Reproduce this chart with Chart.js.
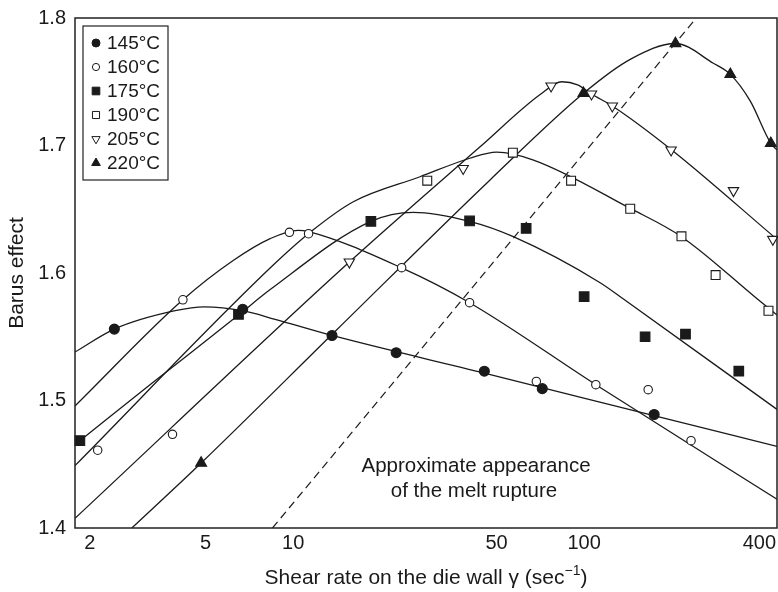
<!DOCTYPE html>
<html>
<head>
<meta charset="utf-8">
<script src="https://cdn.jsdelivr.net/npm/chart.js@4/dist/chart.umd.min.js"></script>
<style>
html,body{margin:0;padding:0;background:#fff;}
#wrap{width:778px;height:592px;position:relative;}
</style>
</head>
<body>
<div id="wrap"><canvas id="c" width="778" height="592"></canvas></div>
<script>
// ---------- data ----------
const xTicks = [2, 5, 10, 50, 100, 400];
const yTicks = [1.4, 1.5, 1.6, 1.7, 1.8];
const seriesLabels = ['145°C', '160°C', '175°C', '190°C', '205°C', '220°C'];

// measured points
const pts145 = [[2.43,1.556],[6.71,1.5716],[13.6,1.551],[22.6,1.5375],[45.4,1.523],[71.8,1.5093],[174,1.489]];
const pts160 = [[2.13,1.461],[3.85,1.4735],[4.18,1.579],[9.71,1.6319],[11.3,1.6308],[23.6,1.6042],[40.4,1.5767],[68.5,1.515],[109.7,1.5124],[166,1.5085],[233,1.4685]];
const pts175 = [[1.85,1.4685],[6.49,1.5676],[18.5,1.6405],[40.4,1.6408],[63.2,1.635],[100,1.5814],[162,1.55],[223,1.552],[340,1.523]];
const pts190 = [[28.9,1.6724],[56.9,1.6944],[90.2,1.6724],[144,1.6504],[216,1.6288],[283,1.5984],[430,1.5704]];
const pts205 = [[15.6,1.6086],[38.4,1.682],[77,1.7467],[106,1.7404],[125,1.731],[199,1.6965],[326,1.6646],[445,1.6264]];
const pts220 = [[4.83,1.451],[99.5,1.741],[206,1.780],[318,1.7558],[438,1.7017]];

// fitted curves
const curve145 = [[1.78,1.538],[2.43,1.556],[3.93,1.5704],[4.95,1.5735],[6.71,1.5705],[8.67,1.5637],[13.6,1.551],[45.4,1.5215],[163,1.4897],[460,1.464]];
const curve160 = [[1.78,1.4957],[4.18,1.579],[6.24,1.610],[8.34,1.627],[10.4,1.6335],[11.3,1.6325],[23.6,1.604],[40.4,1.5767],[109.7,1.5124],[460,1.4225]];
const curve175 = [[1.85,1.4685],[3.27,1.5135],[6.49,1.567],[8.34,1.587],[18.5,1.6405],[25.9,1.6476],[40.4,1.6405],[57.1,1.6285],[113.5,1.5924],[138,1.5788],[460,1.493]];
const curve190 = [[1.78,1.4489],[8.67,1.6076],[11.7,1.6337],[16.1,1.6559],[27.3,1.6755],[40.5,1.690],[50,1.6948],[67,1.6886],[144,1.6507],[216,1.6285],[392,1.580],[460,1.567]];
const curve205 = [[1.78,1.4076],[15.6,1.6086],[43.9,1.699],[70.6,1.740],[83.8,1.750],[95,1.7475],[106,1.7404],[125,1.731],[200,1.6965],[460,1.6264]];
const curve220 = [[2.79,1.4],[4.83,1.451],[14.1,1.5553],[47.5,1.673],[99.5,1.741],[144,1.7676],[206,1.780],[278,1.7645],[318,1.7558],[372,1.735],[438,1.7017],[460,1.6965]];
const meltRupture = [[8.49,1.4],[243,1.8]];

const annotationLines = ['Approximate appearance', 'of the melt rupture'];
const xTitleMain = 'Shear rate on the die wall \u03b3 (sec';
const xTitleSup = '\u22121';
const xTitleEnd = ')';
const yTitle = 'Barus effect';

// ---------- styles ----------
const INK = '#1a1a1a';
const FONT = '"Liberation Sans", Arial, Helvetica, sans-serif';
const toXY = a => a.map(p => ({x: p[0], y: p[1]}));

const markerStyles = [
  {pointStyle:'circle',   radius:5,   fill:INK,    rotation:0,   lr:4},
  {pointStyle:'circle',   radius:4.2, fill:'#fff', rotation:0,   lr:3.6},
  {pointStyle:'rect',     radius:6.8, fill:INK,    rotation:0,   lr:5.4},
  {pointStyle:'rect',     radius:6.3, fill:'#fff', rotation:0,   lr:5},
  {pointStyle:'triangle', radius:6,   fill:'#fff', rotation:180, lr:4.8},
  {pointStyle:'triangle', radius:6.3, fill:INK,    rotation:0,   lr:5}
];
const pointSets = [pts145, pts160, pts175, pts190, pts205, pts220];
const curveSets = [curve145, curve160, curve175, curve190, curve205, curve220];

const datasets = [];
pointSets.forEach((pts, i) => {
  const m = markerStyles[i];
  datasets.push({
    type: 'line', label: seriesLabels[i], data: toXY(pts), showLine: false,
    pointStyle: m.pointStyle, pointRadius: m.radius, pointRotation: m.rotation,
    pointBackgroundColor: m.fill, pointBorderColor: INK, pointBorderWidth: 1.1,
    pointHoverRadius: m.radius, clip: false, order: 0
  });
});
curveSets.forEach((c, i) => {
  datasets.push({
    type: 'line', label: 'fit ' + seriesLabels[i], data: toXY(c),
    borderColor: INK, borderWidth: 1.3, pointRadius: 0, pointHoverRadius: 0,
    cubicInterpolationMode: 'monotone', fill: false, order: 2
  });
});
datasets.push({
  type: 'line', label: 'melt rupture', data: toXY(meltRupture),
  borderColor: INK, borderWidth: 1.2, borderDash: [8, 5], pointRadius: 0,
  pointHoverRadius: 0, fill: false, order: 3
});

function drawMarker(ctx, m, r, x, y) {
  ctx.save();
  ctx.fillStyle = m.fill; ctx.strokeStyle = INK; ctx.lineWidth = 1;
  if (Chart.helpers && Chart.helpers.drawPoint) {
    Chart.helpers.drawPoint(ctx, {pointStyle: m.pointStyle, radius: r, rotation: m.rotation, borderWidth: 1}, x, y);
  }
  ctx.restore();
}

const decor = {
  id: 'decor',
  afterDraw(chart) {
    const ctx = chart.ctx, a = chart.chartArea;
    ctx.save();
    // frame
    ctx.strokeStyle = '#222'; ctx.lineWidth = 1.5;
    ctx.strokeRect(a.left, a.top, a.right - a.left, a.bottom - a.top);
    // legend
    const lx = a.left + 8, ly = a.top + 8, lw = 85, lh = 154;
    ctx.fillStyle = '#fff'; ctx.fillRect(lx, ly, lw, lh);
    ctx.strokeStyle = '#222'; ctx.lineWidth = 1.2; ctx.strokeRect(lx, ly, lw, lh);
    seriesLabels.forEach((lab, i) => {
      const yy = ly + 17 + i * 24;
      drawMarker(ctx, markerStyles[i], markerStyles[i].lr, lx + 13, yy);
      ctx.fillStyle = INK; ctx.font = '19px ' + FONT; ctx.textAlign = 'left'; ctx.textBaseline = 'middle';
      ctx.fillText(lab, lx + 24, yy + 1);
    });
    // annotation
    ctx.font = '20.5px ' + FONT; ctx.textAlign = 'center'; ctx.textBaseline = 'alphabetic'; ctx.fillStyle = INK;
    ctx.fillText(annotationLines[0], 476, 472);
    ctx.fillText(annotationLines[1], 474, 497);
    // x title with superscript
    const cx = (a.left + a.right) / 2;
    ctx.font = '21px ' + FONT;
    const w1 = ctx.measureText(xTitleMain).width;
    const w3 = ctx.measureText(xTitleEnd).width;
    ctx.font = '14px ' + FONT;
    const w2 = ctx.measureText(xTitleSup).width;
    let sx = cx - (w1 + w2 + w3) / 2;
    const by = 584;
    ctx.textAlign = 'left';
    ctx.font = '21px ' + FONT; ctx.fillText(xTitleMain, sx, by);
    ctx.font = '14px ' + FONT; ctx.fillText(xTitleSup, sx + w1, by - 9);
    ctx.font = '21px ' + FONT; ctx.fillText(xTitleEnd, sx + w1 + w2, by);
    // y title
    ctx.translate(17, (a.top + a.bottom) / 2);
    ctx.rotate(-Math.PI / 2);
    ctx.textAlign = 'center'; ctx.textBaseline = 'middle';
    ctx.font = '21px ' + FONT;
    ctx.fillText(yTitle, 0, 0);
    ctx.restore();
  }
};

new Chart(document.getElementById('c'), {
  data: { datasets },
  options: {
    responsive: false, animation: false, devicePixelRatio: 1,
    layout: { autoPadding: false, padding: { top: 18, right: 1, left: 0, bottom: 0 } },
    plugins: { legend: { display: false }, tooltip: { enabled: false }, title: { display: false } },
    scales: {
      x: {
        type: 'logarithmic', min: 1.78, max: 460,
        grid: { display: false, drawTicks: false }, border: { display: false },
        afterBuildTicks: s => { s.ticks = xTicks.map(v => ({ value: v })); },
        afterFit: s => { s.height = 64; s.paddingLeft = 0; s.paddingRight = 0; },
        ticks: { autoSkip: false, maxRotation: 0, padding: 3, color: INK,
                 font: { size: 20, family: FONT }, callback: v => String(v) }
      },
      y: {
        type: 'linear', min: 1.4, max: 1.8,
        grid: { display: false, drawTicks: false }, border: { display: false },
        afterBuildTicks: s => { s.ticks = yTicks.map(v => ({ value: v })); },
        afterFit: s => { s.width = 75; s.paddingTop = 0; s.paddingBottom = 0; },
        ticks: { padding: 9, color: INK, font: { size: 20, family: FONT },
                 callback: v => Number(v).toFixed(1) }
      }
    }
  },
  plugins: [decor]
});
</script>
</body>
</html>
